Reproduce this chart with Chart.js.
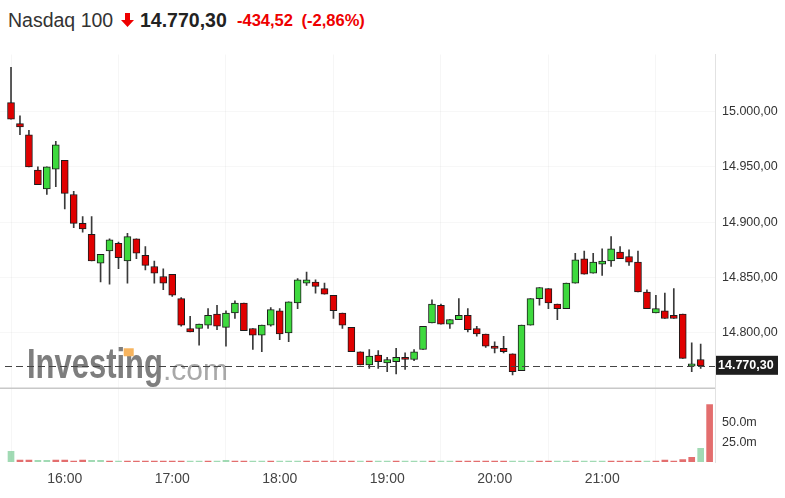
<!DOCTYPE html>
<html>
<head>
<meta charset="utf-8">
<script src="https://cdn.jsdelivr.net/npm/chart.js@4.4.1/dist/chart.umd.min.js"></script>
<style>
html, body { margin: 0; padding: 0; background: #fff; }
#wrap { position: relative; width: 785px; height: 498px; overflow: hidden; font-family: "Liberation Sans", Arial, sans-serif; }
.t { position: absolute; top: 8px; white-space: nowrap; line-height: 24px; }
#box { position: absolute; left: 0; top: 40px; width: 785px; height: 458px; }
</style>
</head>
<body>
<div id="wrap">
  <span class="t" style="left:8px;font-size:19.5px;color:#333">Nasdaq 100</span>
  <svg style="position:absolute;left:121px;top:13px" width="13" height="14" viewBox="0 0 13 14"><path d="M4 0h5v7h4l-6.5 7L0 7h4z" fill="#e00"/></svg>
  <span class="t" style="left:140px;font-size:19.5px;font-weight:bold;color:#222">14.770,30</span>
  <span class="t" style="left:237px;font-size:16.5px;font-weight:bold;color:#e00;word-spacing:4px">-434,52 (-2,86%)</span>
  <div id="box"><canvas id="c" width="785" height="458"></canvas></div>
</div>
<script>
// 5 minute candles, 15:30 .. 21:55
const opens  = [15008,14989,14979,14947,14930,14948,14956,14925,14899,14889,14863,14874,14881,14865,14885,14870,14860,14851,14853,14831,
                14804,14804,14807,14817,14805,14818,14827,14804,14798,14807,14820,14800,14827,14845,14846,14840,14834,14818,14805,14783,
                14771,14780,14773,14774,14778,14776,14785,14809,14825,14808,14812,14816,14804,14799,14788,14786,14781,14766,14807,14831,
                14840,14826,14822,14845,14867,14854,14862,14865,14873,14869,14864,14837,14818,14820,14816,14817,14770,14776];
const highs  = [15040,14996,14983,14950,14950,14973,14956,14928,14905,14905,14871,14885,14882,14890,14885,14878,14865,14858,14853,14832,
                14815,14808,14822,14825,14820,14829,14827,14804,14807,14823,14822,14828,14849,14855,14848,14845,14834,14818,14805,14783,
                14785,14784,14778,14786,14782,14785,14806,14830,14826,14812,14831,14822,14806,14799,14792,14797,14781,14807,14831,14841,
                14840,14826,14845,14872,14874,14872,14876,14887,14878,14875,14874,14839,14834,14836,14840,14817,14791,14790];
const lows   = [14993,14979,14950,14934,14925,14932,14912,14895,14891,14865,14846,14844,14858,14845,14867,14857,14845,14839,14833,14806,
                14801,14789,14804,14803,14788,14813,14802,14785,14783,14806,14794,14792,14822,14843,14836,14835,14813,14804,14783,14771,
                14768,14768,14765,14763,14767,14775,14785,14809,14808,14804,14812,14801,14797,14787,14782,14782,14762,14766,14807,14825,
                14822,14812,14822,14845,14853,14854,14852,14860,14867,14861,14837,14822,14818,14813,14813,14777,14765,14768];
const closes = [14993,14986,14950,14934,14950,14970,14926,14899,14894,14865,14871,14884,14868,14887,14872,14861,14854,14845,14834,14807,
                14801,14808,14816,14806,14818,14827,14802,14798,14807,14821,14799,14828,14848,14848,14842,14835,14820,14807,14783,14771,
                14779,14774,14776,14778,14776,14783,14806,14826,14808,14812,14816,14803,14799,14788,14786,14783,14765,14807,14831,14841,
                14827,14822,14845,14866,14853,14864,14865,14876,14867,14864,14837,14822,14822,14813,14813,14777,14772,14770.30];

// volume in millions, one bar more than the candles
const volumes = [13.5,2.5,2.5,2,2,2.5,2.5,1.2,2.5,2,2,1,1.2,1,1,1.2,1,1,1,1,
                 1,1,1,1.2,2,1,1,1,1,1,1,1,1,1,1,1,1,1,1,1,
                 1,1,1,1,1,1,1,1,1,1,1,1,1,1,1,1,1,1,1,1,
                 1,1,1,1,1,1,1,1,1,1,1,1,1,2.5,1,3,6,17,72];
const volDir = 'GRRGGRRRRGG' + 'RGRRRRRRRG' + 'GRGGRRGGRG' + 'GGRRRRRRGR' + 'GGRGGGRGGR' +
               'RRRRRGGGRR' + 'GGRGGGRRRR' + 'GRRRRRGR';

const hourIdx = [6, 18, 30, 42, 54, 66];
const hourLabels = ['16:00', '17:00', '18:00', '19:00', '20:00', '21:00'];
const priceTicks = [14800, 14850, 14900, 14950, 15000];
const volTicks = [25, 50];
const lastPrice = 14770.30;

const FONT = '"Liberation Sans", Arial, sans-serif';

const fmtPrice = v => {
    const parts = v.toFixed(2).split('.');
    return parts[0].replace(/\B(?=(\d{3})+(?!\d))/g, '.') + ',' + parts[1];
};

const overlay = {
    id: 'overlay',
    beforeDatasetsDraw(chart) {
        const ctx = chart.ctx;
        const ca = chart.chartArea;
        const y = chart.scales.y;
        // investing.com watermark
        ctx.save();
        const bx = ca.left + 27, by = y.bottom - 10;
        ctx.translate(bx, by);
        ctx.scale(0.72, 1);
        ctx.font = 'bold 43px ' + FONT;
        ctx.fillStyle = '#7e7e7e';
        ctx.textBaseline = 'alphabetic';
        ctx.fillText('Investing', 0, 0);
        const wi = ctx.measureText('Invest').width;
        const wii = ctx.measureText('Investi').width;
        ctx.fillStyle = '#f7b45e';
        ctx.fillRect(wi + 10, -30, (wii - wi) + 2, 8);
        ctx.restore();
        ctx.save();
        ctx.font = '30px ' + FONT;
        ctx.fillStyle = '#a8a8a8';
        ctx.fillText('.com', bx + 136, by + 2);
        ctx.restore();
    },
    afterDatasetsDraw(chart) {
        const ctx = chart.ctx;
        const ca = chart.chartArea;
        const y = chart.scales.y;
        // separator between price and volume panes
        ctx.save();
        ctx.strokeStyle = '#c8c8c8';
        ctx.lineWidth = 1.5;
        ctx.beginPath();
        ctx.moveTo(ca.left, y.bottom);
        ctx.lineTo(ca.right, y.bottom);
        ctx.stroke();
        // last price line
        const py = Math.round(y.getPixelForValue(lastPrice)) + 0.5;
        ctx.strokeStyle = '#444';
        ctx.lineWidth = 1;
        ctx.setLineDash([7, 4]);
        ctx.beginPath();
        ctx.moveTo(ca.left + 5, py);
        ctx.lineTo(ca.right, py);
        ctx.stroke();
        ctx.restore();
    },
    afterDraw(chart) {
        const ctx = chart.ctx;
        const ca = chart.chartArea;
        const y = chart.scales.y;
        const py = y.getPixelForValue(lastPrice);
        ctx.save();
        ctx.fillStyle = '#1e1e1e';
        ctx.fillRect(ca.right + 1, py - 10, 62, 19);
        ctx.fillStyle = '#fff';
        ctx.font = 'bold 12.5px ' + FONT;
        ctx.textBaseline = 'middle';
        ctx.fillText(fmtPrice(lastPrice), ca.right + 3, py);
        ctx.restore();
    }
};

const idx = closes.map((c, i) => i);

new Chart(document.getElementById('c'), {
    type: 'bar',
    data: {
        datasets: [
            {
                label: 'body',
                data: idx.map(i => ({ x: i, y: [opens[i], closes[i]] })),
                backgroundColor: idx.map(i => closes[i] >= opens[i] ? '#3ed93e' : '#e00000'),
                borderColor: '#1c1c1c',
                borderWidth: 1,
                borderSkipped: false,
                barThickness: 7,
                grouped: false,
                order: 1,
                yAxisID: 'y'
            },
            {
                label: 'wick',
                data: idx.map(i => ({ x: i, y: [lows[i], highs[i]] })),
                backgroundColor: '#3a3a3a',
                barThickness: 1,
                grouped: false,
                order: 2,
                yAxisID: 'y'
            },
            {
                label: 'volume',
                data: volumes.map((v, i) => ({ x: i, y: v })),
                backgroundColor: volumes.map((v, i) => volDir[i] === 'G' ? 'rgba(130,205,155,0.75)' : 'rgba(222,85,85,0.85)'),
                barThickness: 6,
                grouped: false,
                order: 3,
                yAxisID: 'yv'
            }
        ]
    },
    options: {
        responsive: false,
        animation: false,
        devicePixelRatio: 1,
        layout: { padding: { top: 13, left: 0, right: 0, bottom: 0 } },
        plugins: { legend: { display: false }, tooltip: { enabled: false } },
        scales: {
            x: {
                type: 'linear',
                min: -1.23,
                max: 78.6,
                offset: false,
                grid: { color: 'rgba(0,0,0,0.035)', drawTicks: false },
                border: { display: false },
                ticks: {
                    autoSkip: false, maxRotation: 0, padding: 9, color: '#444',
                    font: { size: 14, family: FONT },
                    callback: (v, i) => hourLabels[i]
                },
                afterBuildTicks: s => { s.ticks = hourIdx.map(v => ({ value: v })); },
                afterFit: s => { s.height = 36; }
            },
            y: {
                position: 'right',
                stack: 'p',
                stackWeight: 335,
                min: 14750,
                max: 15051.5,
                grid: { color: 'rgba(0,0,0,0.03)', drawTicks: false },
                border: { color: '#e2e2e2' },
                ticks: { padding: 7, color: '#333', font: { size: 12.5, family: FONT }, callback: v => fmtPrice(v) },
                afterBuildTicks: s => { s.ticks = priceTicks.map(v => ({ value: v })); },
                afterFit: s => { s.width = 70; }
            },
            yv: {
                position: 'right',
                stack: 'p',
                stackWeight: 74,
                min: 0,
                max: 92.5,
                grid: { display: false, drawTicks: false },
                border: { color: '#e2e2e2' },
                ticks: { padding: 7, color: '#333', font: { size: 12.5, family: FONT }, callback: v => v.toFixed(1) + 'm' },
                afterBuildTicks: s => { s.ticks = volTicks.map(v => ({ value: v })); },
                afterFit: s => { s.width = 70; }
            }
        }
    },
    plugins: [overlay]
});
</script>
</body>
</html>
